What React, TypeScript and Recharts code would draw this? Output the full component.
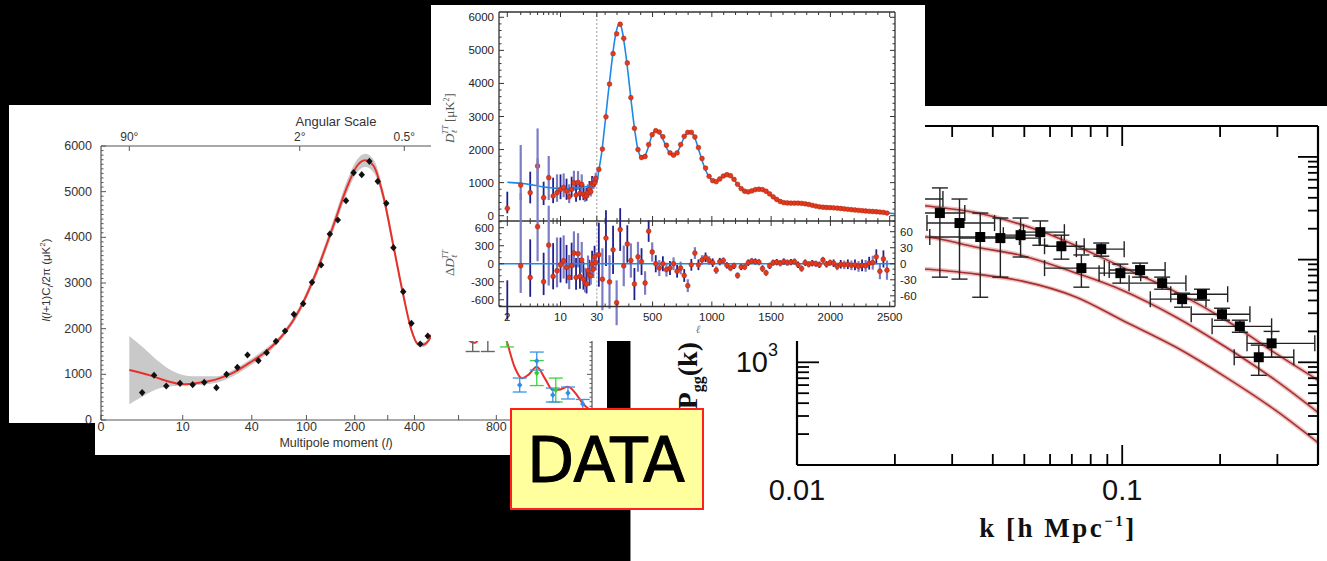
import React from 'react';
import { ComposedChart, Line, Scatter, Area, XAxis, YAxis, ErrorBar, ReferenceLine } from 'recharts';

const SANS = '"Liberation Sans", Arial, Helvetica, sans-serif';
const SERIF = '"Liberation Serif", "Times New Roman", serif';

/* ======================= LEFT PANEL : WMAP-style spectrum ======================= */
const WMAP_L = [3.3, 4.8, 6.7, 9.4, 12.5, 16, 20.5, 25, 30.7, 37, 45, 52, 61, 71, 82, 95, 109, 125, 142, 159, 178, 197, 219, 241, 267, 295, 320, 356, 388, 424, 456];
const WMAP_D = [600, 980, 745, 803, 774, 825, 708, 1000, 1153, 1423, 1299, 1474, 1723, 1949, 2314, 2547, 3015, 3394, 4073, 4380, 4803, 5416, 5372, 5664, 5226, 4745, 3774, 2810, 2117, 1664, 1839];
const WMAP_HL = [672, 753];
const WMAP_HD = [2150, 2250];
const WMAP_HE = [650, 750];
const WMAP_TH_L = [2, 4.25, 6.76, 10, 14.5, 20.5, 28.5, 38.6, 52, 69, 90, 116, 149, 180, 206, 229, 254, 285, 320, 357, 387, 416, 438, 457, 500, 543, 600, 640, 682, 730, 775, 820, 860, 906, 948, 990, 1038, 1090, 1138, 1185, 1235, 1290, 1332, 1359, 1392];
const WMAP_TH_D = [1095, 978, 854, 781, 818, 890, 1036, 1255, 1511, 1876, 2423, 3226, 4248, 5088, 5562, 5686, 5562, 4905, 3810, 2715, 1985, 1657, 1650, 1720, 2150, 2400, 2100, 1800, 1690, 1950, 2250, 2150, 1713, 1150, 912, 1000, 1166, 900, 656, 670, 729, 560, 360, 278, 180];
const WMAP_BAND_L = [2, 3.45, 5.15, 7.96, 12.6, 20.5, 28.5, 38.6, 52, 69, 90, 116, 149, 180, 206, 229, 254, 285, 320, 357, 387, 416, 438, 457];
const WMAP_BAND_LO = [343, 526, 672, 745, 759, 818, 964, 1182, 1440, 1820, 2350, 3130, 4130, 4950, 5420, 5540, 5420, 4780, 3710, 2640, 1930, 1610, 1600, 1670];
const WMAP_BAND_HI = [1839, 1580, 1321, 1066, 956, 956, 1100, 1320, 1580, 1935, 2500, 3320, 4370, 5230, 5700, 5830, 5700, 5030, 3910, 2790, 2040, 1700, 1700, 1770];
const BLUE_L = [935, 1038, 1138, 1235, 1332];
const BLUE_D = [766, 1291, 547, 591, 350];
const BLUE_E = [153, 197, 153, 131, 100];
const GREEN_L = [860, 1038, 1157];
const GREEN_D = [2000, 1028, 656];
const GREEN_E = [400, 274, 262];
const WMAP_X_TICKS = [0, 10, 40, 100, 200, 300, 400, 600, 800];
const WMAP_X_LABELS = ['0', '10', '40', '100', '200', '', '400', '', '800'];
const ANG_DEG = [90, 2, 0.5];
const ANG_LABELS = ['90°', '2°', '0.5°'];

/* ======================= MIDDLE PANEL : Planck-style spectrum ======================= */
const PL_LOW_L = [2, 3, 4, 5, 6, 7, 8, 9, 10, 11, 12, 13, 14, 15, 16, 17, 18, 19, 20, 21, 22, 23, 24, 25, 26, 27, 28, 29];
const PL_LOW_D = [222, 927, 696, 1502, 544, 1149, 595, 696, 796, 857, 746, 575, 796, 998, 625, 1008, 675, 948, 645, 575, 605, 696, 796, 726, 978, 948, 998, 1129];
const PL_LOW_LO = [71, 474, 373, 927, 322, 474, 380, 420, 500, 560, 480, 380, 560, 760, 420, 780, 470, 740, 470, 420, 450, 540, 620, 580, 820, 800, 860, 1000];
const PL_LOW_HI = [726, 2137, 1331, 2640, 1028, 1805, 1150, 1250, 1250, 1280, 1120, 950, 1180, 1360, 950, 1350, 980, 1250, 930, 830, 850, 950, 1050, 960, 1200, 1150, 1180, 1300];
const PL_LOW_RES = [-780, -33, -228, 617, -300, 311, -211, -117, -17, 50, -61, -228, -33, 178, -228, 167, -211, 61, -256, -322, -339, -117, -189, -200, -6, -89, 117, 22];
const PL_HIGH_L = [47, 77, 107, 137, 167, 197, 227, 257, 287, 317, 347, 377, 407, 437, 467, 497, 527, 557, 587, 617, 647, 677, 707, 737, 767, 797, 827, 857, 887, 917, 947, 977, 1007, 1037, 1067, 1097, 1127, 1157, 1187, 1217, 1247, 1277, 1307, 1337, 1367, 1397, 1427, 1457, 1487, 1517, 1547, 1577, 1607, 1637, 1667, 1697, 1727, 1757, 1787, 1817, 1847, 1877, 1907, 1937, 1967, 1997, 2027, 2057, 2087, 2117, 2147, 2177, 2207, 2237, 2267, 2297, 2327, 2357, 2387, 2417, 2447, 2477];
const PL_HIGH_D = [1400, 2016, 2990, 3980, 4900, 5500, 5790, 5363, 4620, 3570, 2641, 2000, 1760, 1790, 2150, 2450, 2570, 2530, 2390, 2130, 1900, 1830, 1900, 2150, 2400, 2520, 2520, 2380, 2060, 1730, 1440, 1190, 1060, 1030, 1110, 1200, 1240, 1210, 1100, 950, 820, 740, 720, 750, 790, 800, 790, 740, 660, 570, 490, 430, 395, 385, 380, 380, 380, 372, 360, 340, 315, 290, 270, 256, 248, 244, 238, 228, 218, 206, 194, 182, 172, 162, 152, 142, 134, 127, 120, 110, 98, 80];
const PL_HIGH_RES = [17, -29, 48, -34, 26, -73, 64, -4, 37, 6, -38, 13, 4, -36, 61, 22, 0, -8, 0, -11, -8, 0, -14, -8, -22, -41, -2, 20, -2, 7, 12, 6, 2, -12, 4, 6, -3, -8, -4, -22, -6, -6, 2, 5, 4, 3, -9, -17, -4, 2, 3, 1, 4, 2, 3, 4, -2, -9, 2, -1, 1, 0, -2, 7, -1, 2, 1, -5, -1, -2, -1, -3, -2, -5, -3, -4, 1, 2, 13, -14, 9, -12];
const PL_HIGH_ERR = [60, 58, 52, 50, 45, 42, 40, 38, 35, 32, 30, 28, 25, 22, 20, 18, 16, 15, 14, 13, 13, 12, 12, 12, 12, 12, 11, 11, 10, 9, 9, 8, 8, 7, 7, 6, 6, 6, 6, 6, 6, 6, 6, 6, 6, 6, 6, 6, 6, 6, 6, 6, 6, 6, 6, 6, 6, 6, 6, 6, 6, 6, 6, 6, 6, 6, 7, 7, 8, 8, 9, 9, 10, 10, 11, 11, 12, 13, 14, 15, 16, 18];
const PL_TH_L = [2, 3, 4, 5, 7, 10, 15, 20, 25, 30, 45, 60, 75, 90, 105, 120, 135, 150, 165, 180, 195, 210, 222, 235, 250, 265, 280, 295, 310, 325, 340, 355, 370, 385, 400, 415, 430, 445, 460, 475, 490, 505, 520, 535, 550, 565, 580, 600, 620, 640, 660, 680, 700, 720, 740, 760, 780, 800, 815, 830, 850, 870, 890, 910, 930, 950, 970, 990, 1010, 1030, 1050, 1070, 1090, 1110, 1130, 1150, 1170, 1190, 1210, 1230, 1250, 1270, 1290, 1310, 1330, 1350, 1370, 1390, 1410, 1430, 1450, 1470, 1490, 1510, 1530, 1550, 1570, 1590, 1610, 1640, 1680, 1720, 1760, 1800, 1840, 1880, 1920, 1960, 2000, 2040, 2080, 2120, 2160, 2200, 2250, 2300, 2350, 2400, 2450, 2500, 2540];
const PL_TH_D = [1010, 980, 940, 900, 850, 820, 830, 860, 920, 998, 1330, 1650, 2016, 2500, 2990, 3500, 3980, 4450, 4900, 5300, 5580, 5760, 5800, 5720, 5480, 5120, 4720, 4260, 3780, 3300, 2850, 2450, 2120, 1900, 1780, 1750, 1780, 1880, 2030, 2200, 2380, 2500, 2560, 2575, 2545, 2470, 2370, 2210, 2040, 1920, 1850, 1835, 1880, 1990, 2150, 2320, 2450, 2520, 2535, 2500, 2400, 2220, 1990, 1760, 1540, 1360, 1210, 1110, 1050, 1030, 1060, 1120, 1180, 1225, 1240, 1220, 1160, 1080, 980, 890, 810, 755, 725, 725, 745, 775, 795, 805, 800, 785, 750, 700, 640, 580, 525, 480, 440, 410, 392, 382, 380, 380, 372, 350, 318, 288, 262, 249, 243, 236, 222, 205, 186, 172, 157, 140, 128, 115, 97, 76, 60];
const PL_X_TICKS = [2, 3, 4, 5, 6, 7, 8, 9, 10, 20, 30, 100, 200, 300, 400, 500, 600, 700, 800, 900, 1000, 1100, 1200, 1300, 1400, 1500, 1600, 1700, 1800, 1900, 2000, 2100, 2200, 2300, 2400, 2500];
const PL_X_LABELED = [2, 10, 30, 500, 1000, 1500, 2000, 2500];

/* ======================= RIGHT PANEL : galaxy power spectrum ======================= */
const PK_K = [0.0214, 0.0275, 0.0316, 0.0366, 0.0422, 0.0487, 0.056, 0.065, 0.0749, 0.0862, 0.0987, 0.1135, 0.1327, 0.1528, 0.1759, 0.2027, 0.23, 0.263, 0.288];
const PK_P = [38900, 28400, 22700, 16600, 16200, 17300, 18500, 13500, 8260, 12650, 7380, 7910, 5900, 4120, 4600, 2940, 2240, 1120, 1530];
const PK_P_LO = [30000, 6750, 6460, 4300, 6750, 10600, 13800, 10100, 5390, 10800, 5900, 6750, 5150, 3440, 4030, 2570, 1960, 747, 1120];
const PK_P_HI = [50000, 49900, 38900, 28400, 25400, 25400, 23800, 17300, 11100, 14500, 9040, 9250, 6750, 4710, 5150, 3360, 2570, 1470, 2000];
const PK_K_LO = [0.0164, 0.023, 0.0251, 0.0256, 0.0316, 0.0431, 0.0497, 0.0577, 0.0577, 0.0723, 0.0849, 0.0912, 0.105, 0.122, 0.141, 0.163, 0.189, 0.221, 0.242];
const PK_K_HI = [0.0281, 0.0328, 0.0405, 0.0483, 0.0556, 0.0556, 0.0664, 0.0764, 0.0881, 0.1014, 0.114, 0.1355, 0.157, 0.181, 0.211, 0.247, 0.288, 0.337, 0.391];
const UP_K = [0.01, 0.0251, 0.0356, 0.0573, 0.1, 0.1465, 0.2086, 0.2965, 0.4];
const UP_P = [42000, 33300, 28600, 18500, 8450, 4820, 2570, 1220, 670];
const MID_K = [0.01, 0.0251, 0.0356, 0.0483, 0.0723, 0.1, 0.1465, 0.2086, 0.2965, 0.4];
const MID_P = [19000, 16600, 13200, 11100, 7380, 5040, 2750, 1400, 667, 325];
const LOW_K = [0.01, 0.0251, 0.0356, 0.0493, 0.0723, 0.1, 0.1465, 0.2086, 0.2965, 0.4];
const LOW_P = [9460, 8070, 7220, 6170, 4300, 2570, 1400, 714, 340, 165];
const PK_X_TICKS = [0.01, 0.02, 0.03, 0.04, 0.05, 0.06, 0.07, 0.08, 0.09, 0.1, 0.2, 0.3];
const PK_Y_TICKS = [200, 300, 400, 500, 600, 700, 800, 900, 1000, 2000, 3000, 4000, 5000, 6000, 7000, 8000, 9000, 10000, 20000, 30000, 40000, 50000, 60000, 70000, 80000, 90000, 100000];

/* ======================= helpers ======================= */
const wmapU = (l: number) => Math.log(1 + l / 3) + l / 500;
const WMAP_U_MAX = 8.93;
const plU = (l: number) => (l <= 30 ? Math.log10(l) : Math.log10(30) + (l - 30) / 642);
const PL_U_MIN = 0.192;
const PL_U_MAX = 5.394;
const near = (a: number, b: number) => Math.abs(a - b) < 1e-6 * Math.max(1, Math.abs(b));

type Side = 'left' | 'right' | 'top' | 'bottom';
interface TickCfg {
  side: Side;
  inner: (v: number) => number;
  outer?: (v: number) => number;
  label?: (v: number) => React.ReactNode;
  gap?: number;
  size?: number;
  color?: string;
  family?: string;
  weight?: number | string;
  stroke?: string;
  sw?: number;
}
const mkTick = (c: TickCfg) => (p: any) => {
  const { x, y, payload } = p;
  const v = payload ? payload.value : 0;
  const inn = c.inner(v);
  const out = c.outer ? c.outer(v) : 0;
  const lab = c.label ? c.label(v) : null;
  const g = c.gap ?? 6;
  const ts: any = { fontSize: c.size ?? 12, fill: c.color ?? '#333', fontFamily: c.family ?? SANS, fontWeight: c.weight ?? 400 };
  const ls: any = { stroke: c.stroke ?? '#333', strokeWidth: c.sw ?? 1 };
  let line: any = null;
  let text: any = null;
  const hasLab = lab !== null && lab !== undefined && lab !== '';
  if (c.side === 'bottom') {
    if (inn || out) line = <line x1={x} x2={x} y1={y + out} y2={y - inn} {...ls} />;
    if (hasLab) text = <text x={x} y={y + g} textAnchor="middle" dominantBaseline="central" {...ts}>{lab}</text>;
  } else if (c.side === 'top') {
    if (inn || out) line = <line x1={x} x2={x} y1={y - out} y2={y + inn} {...ls} />;
    if (hasLab) text = <text x={x} y={y - g} textAnchor="middle" dominantBaseline="central" {...ts}>{lab}</text>;
  } else if (c.side === 'left') {
    if (inn || out) line = <line x1={x - out} x2={x + inn} y1={y} y2={y} {...ls} />;
    if (hasLab) text = <text x={x - g} y={y} textAnchor="end" dominantBaseline="central" {...ts}>{lab}</text>;
  } else {
    if (inn || out) line = <line x1={x + out} x2={x - inn} y1={y} y2={y} {...ls} />;
    if (hasLab) text = <text x={x + g} y={y} textAnchor="start" dominantBaseline="central" {...ts}>{lab}</text>;
  }
  return <g>{line}{text}</g>;
};

const diamond = (s: number, fill: string) => (p: any) => {
  const { cx, cy } = p;
  if (cx == null || cy == null) return <g />;
  return <path d={`M${cx},${cy - s}L${cx + s * 0.9},${cy}L${cx},${cy + s}L${cx - s * 0.9},${cy}Z`} fill={fill} />;
};
const redDot = (p: any) => {
  const { cx, cy } = p;
  if (cx == null || cy == null) return <g />;
  return <circle cx={cx} cy={cy} r={2.4} fill="#e5391b" stroke="#a3200c" strokeWidth={0.5} />;
};
const noDot = () => <g />;
const square = (p: any) => {
  const { cx, cy } = p;
  if (cx == null || cy == null) return <g />;
  return <rect x={cx - 5} y={cy - 5} width={10} height={10} fill="#000" />;
};

const axisCommon = { tickSize: 0, tickMargin: 0, tickLine: false, interval: 0 as const, allowDataOverflow: true };

/* ======================= LEFT CHART ======================= */
function WmapChart() {
  const theory = WMAP_TH_L.map((l, i) => ({ x: wmapU(l), y: WMAP_TH_D[i] }));
  const band = WMAP_BAND_L.map((l, i) => ({ x: wmapU(l), band: [WMAP_BAND_LO[i], WMAP_BAND_HI[i]] }));
  const pts = WMAP_L.map((l, i) => ({ x: wmapU(l), y: WMAP_D[i] }));
  const hpts = WMAP_HL.map((l, i) => ({ x: wmapU(l), y: WMAP_HD[i], e: WMAP_HE[i] }));
  const blue = BLUE_L.map((l, i) => ({ x: wmapU(l), y: BLUE_D[i], e: BLUE_E[i] }));
  const green = GREEN_L.map((l, i) => ({ x: wmapU(l), y: GREEN_D[i], e: GREEN_E[i] }));
  const xt = WMAP_X_TICKS.map(wmapU);
  const at = ANG_DEG.map((d) => wmapU(180 / d));
  const yt = Array.from({ length: 61 }, (_, i) => i * 100);
  const gray = '#555';
  const xLab = (v: number) => {
    const i = xt.findIndex((t) => near(t, v));
    return i >= 0 ? WMAP_X_LABELS[i] : null;
  };
  const aLab = (v: number) => {
    const i = at.findIndex((t) => near(t, v));
    return i >= 0 ? ANG_LABELS[i] : null;
  };
  const yLab = (v: number) => (v % 1000 === 0 ? String(v) : null);
  const yLen = (v: number) => (v % 1000 === 0 ? 5 : 2.5);
  return (
    <ComposedChart width={610} height={460} margin={{ top: 145, left: 100, right: 17, bottom: 39 }}>
      <XAxis xAxisId="b" type="number" dataKey="x" domain={[0, WMAP_U_MAX]} ticks={xt} height={1} {...axisCommon}
        axisLine={{ stroke: gray, strokeWidth: 1.2 }}
        tick={mkTick({ side: 'bottom', inner: () => 5, label: xLab, gap: 7, size: 12.5, color: '#333', stroke: gray })} />
      <XAxis xAxisId="t" orientation="top" type="number" dataKey="x" domain={[0, WMAP_U_MAX]} ticks={at} height={1} {...axisCommon}
        axisLine={{ stroke: gray, strokeWidth: 1.2 }}
        tick={mkTick({ side: 'top', inner: () => 5, label: aLab, gap: 9, size: 12, color: '#333', stroke: gray })} />
      <YAxis yAxisId="l" type="number" domain={[0, 6000]} ticks={yt} width={1} {...axisCommon}
        axisLine={{ stroke: gray, strokeWidth: 1.2 }}
        tick={mkTick({ side: 'left', inner: yLen, label: yLab, gap: 9, size: 12.5, color: '#333', stroke: gray })} />
      <YAxis yAxisId="r" orientation="right" type="number" domain={[0, 6000]} ticks={yt} width={1} {...axisCommon}
        axisLine={{ stroke: gray, strokeWidth: 1.2 }}
        tick={mkTick({ side: 'right', inner: yLen, stroke: gray })} />
      <Area xAxisId="b" yAxisId="l" data={band} dataKey="band" type="monotone" fill="#c9c9c9" fillOpacity={1} stroke="none" isAnimationActive={false} />
      <Line xAxisId="b" yAxisId="l" data={theory} dataKey="y" type="monotone" stroke="#e8302a" strokeWidth={2} dot={false} activeDot={false} isAnimationActive={false} />
      <Scatter xAxisId="b" yAxisId="l" data={hpts} dataKey="y" shape={diamond(3.5, '#111')} isAnimationActive={false}>
        <ErrorBar dataKey="e" direction="y" width={7} stroke="#666" strokeWidth={1.4} />
      </Scatter>
      <Scatter xAxisId="b" yAxisId="l" data={green} dataKey="y" shape={diamond(3, '#2fcf2f')} isAnimationActive={false}>
        <ErrorBar dataKey="e" direction="y" width={7} stroke="#3fd23f" strokeWidth={1.3} />
      </Scatter>
      <Scatter xAxisId="b" yAxisId="l" data={blue} dataKey="y" shape={diamond(3, '#2f8ee8')} isAnimationActive={false}>
        <ErrorBar dataKey="e" direction="y" width={7} stroke="#3a93ea" strokeWidth={1.3} />
      </Scatter>
      <Scatter xAxisId="b" yAxisId="l" data={pts} dataKey="y" shape={diamond(3.6, '#111')} isAnimationActive={false} />
    </ComposedChart>
  );
}

/* ======================= MIDDLE CHARTS ======================= */
const plXLabel = (v: number) => {
  const l = PL_X_TICKS.find((t) => near(plU(t), v));
  return l !== undefined && PL_X_LABELED.indexOf(l) >= 0 ? String(l) : null;
};
const plXLen = (v: number) => {
  const l = PL_X_TICKS.find((t) => near(plU(t), v));
  return l !== undefined && PL_X_LABELED.indexOf(l) >= 0 ? 5 : 3;
};
const PL_FONT = { size: 11.5, color: '#222', family: SANS };
const PL_AX = { stroke: '#333', strokeWidth: 1.3 };
const BLUE = '#1b8ae6';
const DARK_BAR = '#20208c';
const LIGHT_BAR = '#7c7cc6';

function PlanckTop() {
  const xt = PL_X_TICKS.map(plU);
  const yt = Array.from({ length: 31 }, (_, i) => i * 200);
  const theory = PL_TH_L.map((l, i) => ({ x: plU(l), y: PL_TH_D[i] }));
  const low = PL_LOW_L.map((l, i) => ({ x: plU(l), y: PL_LOW_D[i], e: [PL_LOW_D[i] - PL_LOW_LO[i], PL_LOW_HI[i] - PL_LOW_D[i]] }));
  const high = PL_HIGH_L.map((l, i) => ({ x: plU(l), y: PL_HIGH_D[i] }));
  const yLen = (v: number) => (v % 1000 === 0 ? 5 : 2.5);
  return (
    <ComposedChart width={930} height={345} margin={{ top: 11, left: 498, right: 34, bottom: 123 }}>
      <XAxis xAxisId="b" type="number" dataKey="x" domain={[PL_U_MIN, PL_U_MAX]} ticks={xt} height={1} {...axisCommon}
        axisLine={PL_AX} tick={mkTick({ side: 'bottom', inner: plXLen, outer: plXLen, stroke: '#333' })} />
      <XAxis xAxisId="t" orientation="top" type="number" dataKey="x" domain={[PL_U_MIN, PL_U_MAX]} ticks={xt} height={1} {...axisCommon}
        axisLine={PL_AX} tick={mkTick({ side: 'top', inner: plXLen, stroke: '#333' })} />
      <YAxis yAxisId="l" type="number" domain={[-160, 6160]} ticks={yt} width={1} {...axisCommon}
        axisLine={PL_AX}
        tick={mkTick({ side: 'left', inner: yLen, label: (v) => (v % 1000 === 0 ? String(v) : null), gap: 5, ...PL_FONT, stroke: '#333' })} />
      <YAxis yAxisId="r" orientation="right" type="number" domain={[-160, 6160]} ticks={yt} width={1} {...axisCommon}
        axisLine={PL_AX} tick={mkTick({ side: 'right', inner: yLen, stroke: '#333' })} />
      <ReferenceLine xAxisId="b" yAxisId="l" x={plU(30)} stroke="#9a9a9a" strokeDasharray="2 2" strokeWidth={1} />
      <Scatter xAxisId="b" yAxisId="l" data={low.filter((_, i) => i % 2 === 0)} dataKey="y" shape={noDot} isAnimationActive={false}>
        <ErrorBar dataKey="e" direction="y" width={0} stroke={DARK_BAR} strokeWidth={1.8} />
      </Scatter>
      <Scatter xAxisId="b" yAxisId="l" data={low.filter((_, i) => i % 2 === 1)} dataKey="y" shape={noDot} isAnimationActive={false}>
        <ErrorBar dataKey="e" direction="y" width={0} stroke={LIGHT_BAR} strokeWidth={2.2} />
      </Scatter>
      <Line xAxisId="b" yAxisId="l" data={theory} dataKey="y" type="monotone" stroke={BLUE} strokeWidth={1.6} dot={false} activeDot={false} isAnimationActive={false} />
      <Scatter xAxisId="b" yAxisId="l" data={low} dataKey="y" shape={redDot} isAnimationActive={false} />
      <Scatter xAxisId="b" yAxisId="l" data={high} dataKey="y" shape={redDot} isAnimationActive={false} />
    </ComposedChart>
  );
}

function PlanckResid() {
  const xt = PL_X_TICKS.map(plU);
  const loT = Array.from({ length: 15 }, (_, i) => -700 + i * 100);
  const hiT = Array.from({ length: 17 }, (_, i) => -80 + i * 10);
  const low = PL_LOW_L.map((l, i) => ({
    x: plU(l), y: PL_LOW_RES[i], e: [PL_LOW_D[i] - PL_LOW_LO[i], PL_LOW_HI[i] - PL_LOW_D[i]],
  }));
  const high = PL_HIGH_L.map((l, i) => ({ x: plU(l), y: PL_HIGH_RES[i], e: PL_HIGH_ERR[i] }));
  return (
    <ComposedChart width={930} height={345} margin={{ top: 221, left: 498, right: 34, bottom: 37.5 }}>
      <XAxis xAxisId="b" type="number" dataKey="x" domain={[PL_U_MIN, PL_U_MAX]} ticks={xt} height={1} {...axisCommon}
        axisLine={PL_AX} tick={mkTick({ side: 'bottom', inner: plXLen, label: plXLabel, gap: 10, ...PL_FONT, stroke: '#333' })} />
      <YAxis yAxisId="lo" type="number" domain={[-712, 712]} ticks={loT} width={1} {...axisCommon}
        axisLine={PL_AX}
        tick={mkTick({ side: 'left', inner: (v) => (v % 300 === 0 ? 5 : 2.5), label: (v) => (v % 300 === 0 ? String(v) : null), gap: 5, ...PL_FONT, stroke: '#333' })} />
      <YAxis yAxisId="hi" orientation="right" type="number" domain={[-80, 80]} ticks={hiT} width={1} {...axisCommon}
        axisLine={PL_AX}
        tick={mkTick({ side: 'right', inner: (v) => (v % 30 === 0 ? 5 : 2.5), label: (v) => (v % 30 === 0 && Math.abs(v) <= 60 ? String(v) : null), gap: 5, ...PL_FONT, stroke: '#333' })} />
      <ReferenceLine xAxisId="b" yAxisId="lo" x={plU(30)} stroke="#9a9a9a" strokeDasharray="2 2" strokeWidth={1} />
      <Scatter xAxisId="b" yAxisId="lo" data={low.filter((_, i) => i % 2 === 0)} dataKey="y" shape={noDot} isAnimationActive={false}>
        <ErrorBar dataKey="e" direction="y" width={0} stroke={DARK_BAR} strokeWidth={1.8} />
      </Scatter>
      <Scatter xAxisId="b" yAxisId="lo" data={low.filter((_, i) => i % 2 === 1)} dataKey="y" shape={noDot} isAnimationActive={false}>
        <ErrorBar dataKey="e" direction="y" width={0} stroke={LIGHT_BAR} strokeWidth={2.2} />
      </Scatter>
      <Scatter xAxisId="b" yAxisId="hi" data={high.filter((_, i) => i % 2 === 0)} dataKey="y" shape={noDot} isAnimationActive={false}>
        <ErrorBar dataKey="e" direction="y" width={0} stroke={DARK_BAR} strokeWidth={1.8} />
      </Scatter>
      <Scatter xAxisId="b" yAxisId="hi" data={high.filter((_, i) => i % 2 === 1)} dataKey="y" shape={noDot} isAnimationActive={false}>
        <ErrorBar dataKey="e" direction="y" width={0} stroke={LIGHT_BAR} strokeWidth={2.2} />
      </Scatter>
      <ReferenceLine xAxisId="b" yAxisId="lo" y={0} stroke={BLUE} strokeWidth={1.6} />
      <Scatter xAxisId="b" yAxisId="lo" data={low} dataKey="y" shape={redDot} isAnimationActive={false} />
      <Scatter xAxisId="b" yAxisId="hi" data={high} dataKey="y" shape={redDot} isAnimationActive={false} />
    </ComposedChart>
  );
}

/* ======================= RIGHT CHART ======================= */
function PkChart() {
  const pts = PK_K.map((k, i) => ({
    x: k, y: PK_P[i],
    ex: [k - PK_K_LO[i], PK_K_HI[i] - k],
    ey: [PK_P[i] - PK_P_LO[i], PK_P_HI[i] - PK_P[i]],
  }));
  const up = UP_K.map((k, i) => ({ x: k, y: UP_P[i] }));
  const mid = MID_K.map((k, i) => ({ x: k, y: MID_P[i] }));
  const low = LOW_K.map((k, i) => ({ x: k, y: LOW_P[i] }));
  const isDecX = (v: number) => near(v, 0.1);
  const isDecY = (v: number) => near(v, 1000) || near(v, 10000) || near(v, 100000);
  const xLen = (v: number) => (near(v, 0.01) ? 0 : isDecX(v) ? 20 : 11);
  const xLab = (v: number) => (near(v, 0.01) ? '0.01' : near(v, 0.1) ? '0.1' : null);
  const yLab = (v: number) => (near(v, 1000) ? <tspan>10<tspan fontSize={18} dy={-12}>3</tspan></tspan> : null);
  const ax = { stroke: '#000', strokeWidth: 2.2 };
  const curves = [up, mid, low];
  return (
    <ComposedChart width={1327} height={561} margin={{ top: 125, left: 796, right: 8, bottom: 95 }}>
      <XAxis xAxisId="b" type="number" scale="log" dataKey="x" domain={[0.01, 0.4]} ticks={PK_X_TICKS} height={1} {...axisCommon}
        axisLine={ax} tick={mkTick({ side: 'bottom', inner: xLen, label: xLab, gap: 25, size: 29, color: '#111', stroke: '#000', sw: 1.8 })} />
      <XAxis xAxisId="t" orientation="top" type="number" scale="log" dataKey="x" domain={[0.01, 0.4]} ticks={PK_X_TICKS} height={1} {...axisCommon}
        axisLine={ax} tick={mkTick({ side: 'top', inner: xLen, stroke: '#000', sw: 1.8 })} />
      <YAxis yAxisId="l" type="number" scale="log" domain={[100, 200000]} ticks={PK_Y_TICKS} width={1} {...axisCommon}
        axisLine={ax} tick={mkTick({ side: 'left', inner: (v) => (isDecY(v) ? 22 : 12), label: yLab, gap: 19, size: 29, color: '#111', stroke: '#000', sw: 1.8 })} />
      <YAxis yAxisId="r" orientation="right" type="number" scale="log" domain={[100, 200000]} ticks={PK_Y_TICKS} width={1} {...axisCommon}
        axisLine={ax} tick={mkTick({ side: 'right', inner: (v) => (isDecY(v) ? 20 : 10), stroke: '#000', sw: 1.8 })} />
      {curves.map((c, i) => (
        <Line key={'h' + i} xAxisId="b" yAxisId="l" data={c} dataKey="y" type="monotone" stroke="#ecc3c3" strokeWidth={4.5} dot={false} activeDot={false} isAnimationActive={false} />
      ))}
      {curves.map((c, i) => (
        <Line key={'c' + i} xAxisId="b" yAxisId="l" data={c} dataKey="y" type="monotone" stroke="#a83030" strokeWidth={1.6} dot={false} activeDot={false} isAnimationActive={false} />
      ))}
      <Scatter xAxisId="b" yAxisId="l" data={pts} dataKey="y" shape={square} isAnimationActive={false}>
        <ErrorBar dataKey="ex" direction="x" width={8} stroke="#222" strokeWidth={1.4} />
        <ErrorBar dataKey="ey" direction="y" width={8} stroke="#222" strokeWidth={1.4} />
      </Scatter>
    </ComposedChart>
  );
}

/* ======================= APP ======================= */
const abs: React.CSSProperties = { position: 'absolute', left: 0, top: 0 };

export default function App() {
  return (
    <div style={{ position: 'absolute', left: 0, top: 0, width: 1327, height: 561, background: '#000', overflow: 'hidden' }}>
      {/* left panel */}
      <div style={{ position: 'absolute', left: 9, top: 105, width: 598, height: 318, background: '#fff' }} />
      <div style={{ position: 'absolute', left: 95, top: 105, width: 512, height: 350, background: '#fff' }} />
      <div style={abs}><WmapChart /></div>
      <svg width={1327} height={561} style={abs}>
        <text x={336} y={121} textAnchor="middle" dominantBaseline="central" fontSize={13} fill="#333" fontFamily={SANS}>Angular Scale</text>
        <text x={336} y={443} textAnchor="middle" dominantBaseline="central" fontSize={12.5} fill="#333" fontFamily={SANS}>
          Multipole moment (<tspan fontStyle="italic">l</tspan>)
        </text>
        <text transform="translate(50,280) rotate(-90)" textAnchor="middle" fontSize={11.5} fill="#333" fontFamily={SANS}>
          <tspan fontStyle="italic">l</tspan>(<tspan fontStyle="italic">l</tspan>+1)C<tspan fontSize={8} dy={3} fontStyle="italic">l</tspan>
          <tspan dy={-3}>/2π (μK</tspan><tspan fontSize={8} dy={-5}>2</tspan><tspan dy={5}>)</tspan>
        </text>
      </svg>

      {/* right panel */}
      <div style={{ position: 'absolute', left: 630, top: 106, width: 697, height: 455, background: '#fff', borderLeft: '1px solid #888', boxSizing: 'border-box' }} />
      <div style={abs}><PkChart /></div>
      <svg width={1327} height={561} style={abs}>
        <text transform="translate(697,342) rotate(-90)" textAnchor="end" fontSize={28} fontWeight={700} fill="#111" fontFamily={SERIF}>
          P<tspan fontSize={16} dy={6}>gg</tspan><tspan dy={-6}>(k)</tspan>
        </text>
        <text x={1058} y={537} textAnchor="middle" fontSize={27} fontWeight={700} fill="#111" fontFamily={SERIF} letterSpacing={2.5}>
          k [h Mpc<tspan fontSize={15} dy={-11}>−1</tspan><tspan dy={11}>]</tspan>
        </text>
      </svg>

      {/* middle panel */}
      <div style={{ position: 'absolute', left: 431, top: 5, width: 494, height: 336, background: '#fff' }} />
      <div style={abs}><PlanckTop /></div>
      <div style={abs}><PlanckResid /></div>
      <svg width={1327} height={561} style={abs}>
        <text transform="translate(454,118) rotate(-90)" textAnchor="middle" fontSize={13} fill="#555" fontFamily={SERIF}>
          <tspan fontStyle="italic">D</tspan><tspan fontSize={8} dy={3} fontStyle="italic">ℓ</tspan>
          <tspan fontSize={8} dx={-4} dy={-9} fontStyle="italic">TT</tspan><tspan dy={6}> [μK</tspan>
          <tspan fontSize={8} dy={-5}>2</tspan><tspan dy={5}>]</tspan>
        </text>
        <text transform="translate(454,263) rotate(-90)" textAnchor="middle" fontSize={13} fill="#555" fontFamily={SERIF}>
          Δ<tspan fontStyle="italic">D</tspan><tspan fontSize={8} dy={3} fontStyle="italic">ℓ</tspan>
          <tspan fontSize={8} dx={-4} dy={-9} fontStyle="italic">TT</tspan>
        </text>
        <text x={698} y={333} textAnchor="middle" fontSize={11} fill="#777" fontStyle="italic" fontFamily={SERIF}>ℓ</text>
      </svg>

      {/* DATA label */}
      <div style={{ position: 'absolute', left: 510, top: 408, width: 194, height: 102, background: '#ffff9e', border: '2px solid #ff1f1f', boxSizing: 'border-box' }}>
        <svg width={190} height={98} style={abs}>
          <text x={94} y={72} textAnchor="middle" fontSize={62} fill="#000" stroke="#000" strokeWidth={1} strokeLinejoin="round"
            fontFamily='"DejaVu Sans", sans-serif' textLength={158} lengthAdjust="spacingAndGlyphs">DATA</text>
        </svg>
      </div>
    </div>
  );
}
